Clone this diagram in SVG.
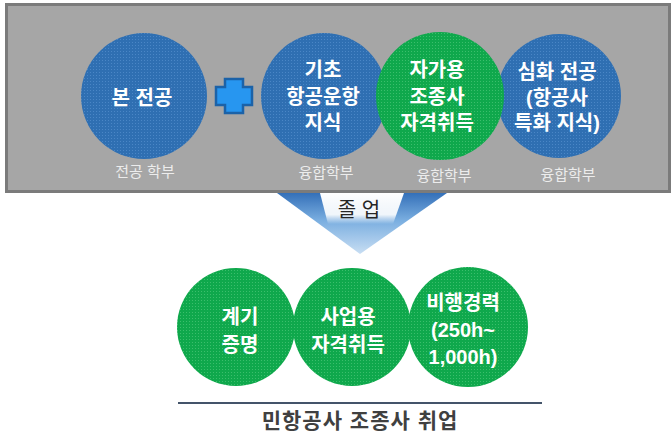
<svg xmlns="http://www.w3.org/2000/svg" width="672" height="432" viewBox="0 0 672 432">
  <defs>
    <linearGradient id="arrowGrad" x1="0" y1="0" x2="0" y2="1">
      <stop offset="0" stop-color="#3470b9"/>
      <stop offset="0.45" stop-color="#7aaee0"/>
      <stop offset="1" stop-color="#c8def3"/>
    </linearGradient>
    <linearGradient id="whiteFade" x1="0" y1="0" x2="0" y2="1">
      <stop offset="0" stop-color="#ffffff"/>
      <stop offset="0.7" stop-color="#ffffff" stop-opacity="0.9"/>
      <stop offset="1" stop-color="#ffffff" stop-opacity="0"/>
    </linearGradient>
    <pattern id="dotsB" width="3" height="3" patternUnits="userSpaceOnUse">
      <rect width="3" height="3" fill="#2f6fb2"/>
      <rect width="1" height="1" fill="#4a86c6"/>
    </pattern>
    <pattern id="dotsG" width="3" height="3" patternUnits="userSpaceOnUse">
      <rect width="3" height="3" fill="#0fa84c"/>
      <rect width="1" height="1" fill="#3bbe6c"/>
    </pattern>
  </defs>
  <style>
    .blue { fill: url(#dotsB); }
    .green { fill: url(#dotsG); }
    .ct { font-family: "Liberation Sans", "Noto Sans CJK KR", sans-serif; font-size: 20px; font-weight: bold; fill: #ffffff; text-anchor: middle; }
    .lbl { font-family: "Liberation Sans", "Noto Sans CJK KR", sans-serif; font-size: 15px; fill: #ececec; text-anchor: middle; }
  </style>

  <rect x="6.5" y="4.5" width="663" height="187" fill="#a6a6a6" stroke="#7b7b7b" stroke-width="3"/>

  <g id="connectors">
    <g id="arrow">
      <polygon points="277,193 447,193 360,254" fill="url(#arrowGrad)"/>
      <polygon points="320,193 404,193 393,224 328,224" fill="url(#whiteFade)"/>
      <text x="359" y="217" font-family="Liberation Sans, 'Noto Sans CJK KR', sans-serif" font-size="20" fill="#262626" text-anchor="middle">졸 업</text>
    </g>
    <line x1="178" y1="403" x2="542" y2="403" stroke="#44546a" stroke-width="2"/>
  </g>

  <g id="node-major">
    <circle class="blue" cx="144" cy="96" r="63"/>
    <text class="ct" x="142" y="105">본 전공</text>
    <text class="lbl" x="145" y="177">전공 학부</text>
  </g>

  <g id="plus">
    <path d="M225,79 H243 V87 H252 V105 H243 V113 H225 V105 H216 V87 H225 Z" fill="#2796f0" stroke="#1b62a8" stroke-width="2.5" stroke-linejoin="miter"/>
  </g>

  <g id="node-basic">
    <circle class="blue" cx="324" cy="96" r="63"/>
    <text class="ct" x="323" y="77">기초</text>
    <text class="ct" x="323" y="104">항공운항</text>
    <text class="ct" x="323" y="130">지식</text>
    <text class="lbl" x="326" y="178">융합학부</text>
  </g>

  <g id="node-advanced">
    <circle class="blue" cx="559" cy="96" r="62"/>
    <text class="ct" x="557" y="79">심화 전공</text>
    <text class="ct" x="557" y="105">(항공사</text>
    <text class="ct" x="557" y="130">특화 지식)</text>
    <text class="lbl" x="568" y="180">융합학부</text>
  </g>

  <g id="node-ppl">
    <circle class="green" cx="440" cy="96" r="64"/>
    <text class="ct" x="437" y="77">자가용</text>
    <text class="ct" x="437" y="104">조종사</text>
    <text class="ct" x="437" y="130">자격취득</text>
    <text class="lbl" x="444" y="181">융합학부</text>
  </g>

  <g id="node-instrument">
    <circle class="green" cx="236" cy="327" r="59"/>
    <text class="ct" x="240" y="324">계기</text>
    <text class="ct" x="240" y="352">증명</text>
  </g>

  <g id="node-hours">
    <circle class="green" cx="468" cy="327" r="60"/>
    <text class="ct" x="463" y="310">비행경력</text>
    <text class="ct" x="463" y="337">(250h~</text>
    <text class="ct" x="463" y="364">1,000h)</text>
  </g>

  <g id="node-cpl">
    <circle class="green" cx="352" cy="327" r="59"/>
    <text class="ct" x="348" y="324">사업용</text>
    <text class="ct" x="348" y="352">자격취득</text>
  </g>

  <g id="result">
    <text x="360" y="428" font-family="Liberation Sans, 'Noto Sans CJK KR', sans-serif" font-size="21" font-weight="bold" fill="#404040" text-anchor="middle" letter-spacing="1">민항공사 조종사 취업</text>
  </g>
</svg>
